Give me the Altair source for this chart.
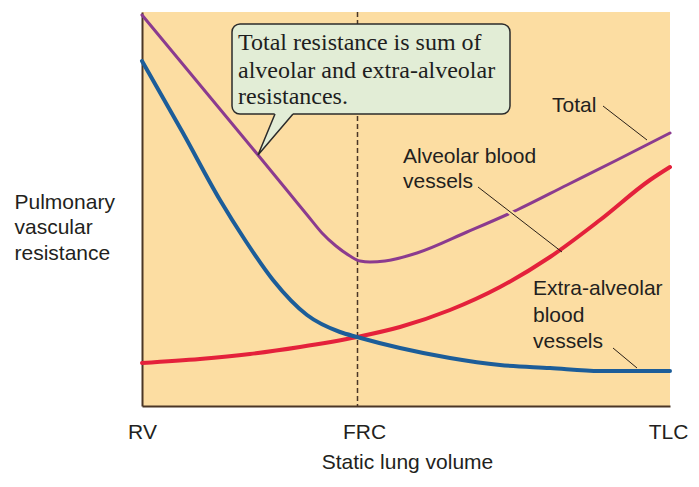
import altair as alt
import pandas as pd

# x = static lung volume (0 = RV ... 528 = TLC), y = pulmonary vascular resistance (arbitrary units)
extra_x = [0, 41, 78, 103, 131, 165, 198, 215, 258, 308, 358, 408, 458, 528]
extra_y = [345, 273, 206, 166, 126, 91, 74, 69, 58, 48, 41, 38, 35, 35]
alv_x = [0, 58, 108, 158, 215, 258, 308, 358, 408, 458, 508, 528]
alv_y = [43, 47, 52, 59, 69, 79, 96, 119, 149, 186, 226, 239]
tot_x = [0, 58, 116, 148, 166, 180, 194, 208, 218, 228, 243, 275, 325, 375, 425, 475, 528]
tot_y = [391, 321, 251, 212, 190, 173, 160, 150, 145, 144, 145, 153, 174, 196, 221, 246, 273]

tick_values = [0, 222, 526]
tick_labels = ["RV", "FRC", "TLC"]
frc_x = [215.5]

label_text = ["Total", "Alveolar blood", "vessels", "Extra-alveolar", "blood", "vessels"]
label_x = [410, 261, 261, 391, 391, 391]
label_y = [294, 243, 218, 111, 84, 58]

leader_id = ["t", "t", "a", "a", "e", "e"]
leader_x = [461, 505, 336, 420, 471, 495]
leader_y = [300, 266, 219, 154, 58, 38]
halo_x = [362, 380]
halo_y = [198.8, 184.9]

callout_lines = ["Total resistance is sum of", "alveolar and extra-alveolar", "resistances."]
callout_x = [96, 96, 96]
callout_y = [356, 328, 302]
box_x, box_x2, box_y, box_y2 = [90], [368], [292], [382]
tail_x = [116, 133, 151]
tail_top = [251, 293.5, 293.5]
tail_bot = [251, 270.9, 292]
tail_line_x = [133, 116, 151]
tail_line_y = [292, 251, 292]
tail_order = [0, 1, 2]

BG = "#FCDDA2"
INK = "#231F20"
BROWN = "#4A3626"

xs = alt.Scale(domain=[0, 528], nice=False, zero=False)
ys = alt.Scale(domain=[0, 394], nice=False, zero=False)

label_expr = " : ".join(
    [f"datum.value == {v} ? '{t}'" for v, t in zip(tick_values[:-1], tick_labels[:-1])]
) + f" : '{tick_labels[-1]}'"

x_axis = alt.Axis(values=tick_values, labelExpr=label_expr, ticks=False, grid=False,
                  domainColor=BROWN, domainWidth=2, labelFont="Liberation Sans",
                  labelFontSize=21, labelColor=INK, labelBaseline="alphabetic",
                  labelPadding=32, labelFlush=False, labelOverlap=False,
                  title="Static lung volume", titleFont="Liberation Sans",
                  titleFontSize=21, titleFontWeight="normal", titleColor=INK,
                  titleBaseline="alphabetic", titleAlign="center", titleX=265, titleY=62)
y_axis = alt.Axis(labels=False, ticks=False, grid=False, domainColor=BROWN, domainWidth=2,
                  title=["Pulmonary", "vascular", "resistance"], titleFont="Liberation Sans",
                  titleFontSize=21, titleFontWeight="normal", titleColor=INK, titleAngle=0,
                  titleAlign="left", titleBaseline="alphabetic", titleX=-128, titleY=196,
                  titleLineHeight=25.5)


def line_layer(xv, yv, color, width):
    df = pd.DataFrame({"x": xv, "y": yv})
    return alt.Chart(df).mark_line(color=color, strokeWidth=width, interpolate="monotone",
                                   strokeCap="round").encode(
        x=alt.X("x:Q", scale=xs), y=alt.Y("y:Q", scale=ys))


base_axes = alt.Chart(pd.DataFrame({"x": frc_x})).mark_rule(
    color=BROWN, strokeWidth=1.5, strokeDash=[5, 3]).encode(
    x=alt.X("x:Q", scale=xs, axis=x_axis),
    y=alt.value(0), y2=alt.value(394))

axis_y_holder = alt.Chart(pd.DataFrame({"y": [0]})).mark_point(opacity=0).encode(
    y=alt.Y("y:Q", scale=ys, axis=y_axis))

red = line_layer(alv_x, alv_y, "#E4213B", 4)
blue = line_layer(extra_x, extra_y, "#1C5D99", 4)
purple = line_layer(tot_x, tot_y, "#8B3B8F", 3)

halo = alt.Chart(pd.DataFrame({"x": halo_x, "y": halo_y})).mark_line(
    color=BG, strokeWidth=5).encode(x=alt.X("x:Q", scale=xs), y=alt.Y("y:Q", scale=ys))

leaders = alt.Chart(pd.DataFrame({"id": leader_id, "x": leader_x, "y": leader_y})).mark_line(
    color="#2A2018", strokeWidth=1).encode(
    x=alt.X("x:Q", scale=xs), y=alt.Y("y:Q", scale=ys), detail="id:N")

labels = alt.Chart(pd.DataFrame({"t": label_text, "x": label_x, "y": label_y})).mark_text(
    align="left", baseline="alphabetic", font="Liberation Sans", fontSize=21, color=INK).encode(
    x=alt.X("x:Q", scale=xs), y=alt.Y("y:Q", scale=ys), text="t:N")

box = alt.Chart(pd.DataFrame({"x": box_x, "x2": box_x2, "y": box_y, "y2": box_y2})).mark_rect(
    fill="#E2EDD6", stroke="#2B2B2B", strokeWidth=1.5, cornerRadius=8).encode(
    x=alt.X("x:Q", scale=xs), x2="x2:Q", y=alt.Y("y:Q", scale=ys), y2="y2:Q")

tail_fill = alt.Chart(pd.DataFrame({"x": tail_x, "y": tail_top, "y2": tail_bot})).mark_area(
    color="#E2EDD6", interpolate="linear").encode(
    x=alt.X("x:Q", scale=xs), y=alt.Y("y:Q", scale=ys), y2="y2:Q")

tail_line = alt.Chart(pd.DataFrame({"x": tail_line_x, "y": tail_line_y, "o": tail_order})).mark_line(
    color="#2B2B2B", strokeWidth=1.5, strokeJoin="miter").encode(
    x=alt.X("x:Q", scale=xs), y=alt.Y("y:Q", scale=ys), order="o:Q")

callout_text = alt.Chart(pd.DataFrame({"t": callout_lines, "x": callout_x, "y": callout_y})).mark_text(
    align="left", baseline="alphabetic", font="Liberation Serif", fontSize=24, color="#1E1E1E").encode(
    x=alt.X("x:Q", scale=xs), y=alt.Y("y:Q", scale=ys), text="t:N")

chart = alt.layer(
    base_axes, axis_y_holder, red, blue, purple, halo, leaders, labels,
    box, tail_fill, tail_line, callout_text
).properties(
    width=528, height=394, autosize="none",
    padding={"left": 142, "top": 12, "right": 29, "bottom": 81},
    background="white"
).configure_view(fill=BG, strokeWidth=0)

chart.save("out.html", embed_options={"renderer": "svg", "actions": False})
